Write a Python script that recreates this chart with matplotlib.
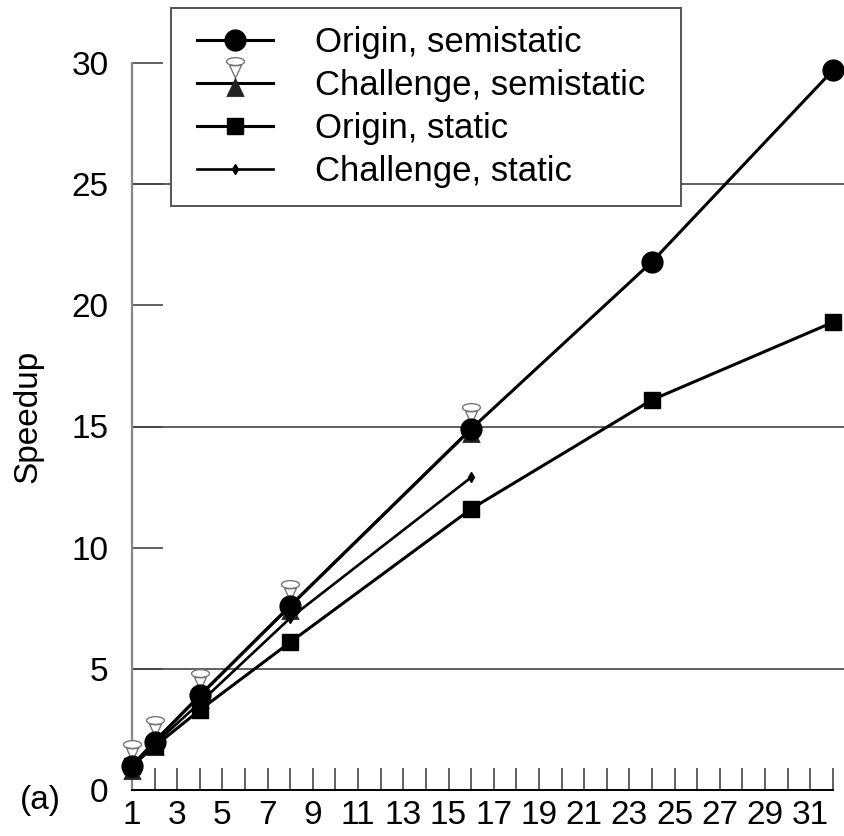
import matplotlib
matplotlib.use('Agg')
import matplotlib.pyplot as plt
from matplotlib.lines import Line2D
from matplotlib.path import Path
from matplotlib.transforms import Affine2D
from matplotlib.legend_handler import HandlerTuple, HandlerLine2D

plt.rcParams['font.family'] = ['Liberation Sans', 'DejaVu Sans']

# --- data ---
x_all = [1, 2, 4, 8, 16, 24, 32]
x_part = [1, 2, 4, 8, 16]
origin_semi = [1.0, 2.0, 3.9, 7.6, 14.9, 21.8, 29.7]
challenge_semi = [1.0, 2.0, 3.9, 7.6, 14.9]
origin_static = [1.0, 1.8, 3.3, 6.1, 11.6, 16.1, 19.3]
challenge_static = [1.0, 1.9, 3.6, 7.1, 12.9]

labels = ['Origin, semistatic', 'Challenge, semistatic', 'Origin, static', 'Challenge, static']
y_ticks = [0, 5, 10, 15, 20, 25, 30]
grid_y = [5, 15, 25]

# hourglass marker: open cup + upper glass on top, dark triangle below
# (extra MOVETO points keep both parts scaled the same way)
bounds = Path([(0, -1.0), (0, 1.0)], [Path.MOVETO, Path.MOVETO])
cup = Path.unit_circle().transformed(Affine2D().scale(0.34, 0.15).translate(0, 0.83))
glass = Path([(-0.22, 0.68), (0.22, 0.68), (0, 0.2), (-0.22, 0.68)],
             [Path.MOVETO, Path.LINETO, Path.LINETO, Path.CLOSEPOLY])
cup = Path.make_compound_path(cup, glass, bounds)
tri = Path([(0, 0.2), (-0.33, -0.5), (0.33, -0.5), (0, 0.2)],
           [Path.MOVETO, Path.LINETO, Path.LINETO, Path.CLOSEPOLY])
tri = Path.make_compound_path(tri, bounds)

fig = plt.figure(figsize=(8.44, 8.36), dpi=100)
ax = fig.add_axes([132 / 844, 1 - 790 / 836, 1 - 132 / 844, 727 / 836])

for g in grid_y:
    ax.axhline(g, color='#444444', lw=1.2, zorder=1)

cs_cup, = ax.plot(x_part, challenge_semi, color='black', lw=2.2, marker=cup, ms=38,
                  mfc='white', mec='#777777', mew=1.0, zorder=3, clip_on=False)
cs_tri, = ax.plot(x_part, challenge_semi, color='black', lw=0, marker=tri, ms=38,
                  mfc='#222222', mec='#222222', mew=0.5, zorder=3, clip_on=False)
os_line, = ax.plot(x_all, origin_semi, color='black', lw=2.2, marker='o', ms=15,
                   zorder=5, clip_on=False)
st_line, = ax.plot(x_all, origin_static, color='black', lw=2.2, marker='s', ms=12,
                   zorder=4, clip_on=False)
ct_line, = ax.plot(x_part, challenge_static, color='black', lw=1.9, marker='d', ms=5,
                   zorder=4, clip_on=False)

ax.set_xlim(1, 32.49)
ax.set_ylim(0, 30)
ax.set_xticks(range(1, 33))
ax.set_xticklabels([str(i) if i % 2 == 1 else '' for i in range(1, 33)])
ax.set_yticks(y_ticks)

ax.tick_params(axis='x', direction='in', length=16, width=1.2, color='#444444',
               labelsize=24, pad=7)
ax.tick_params(axis='y', direction='in', length=22, width=1.2, color='#444444',
               labelsize=24, pad=17)

for s in ['top', 'right']:
    ax.spines[s].set_visible(False)
ax.spines['left'].set_color('#888888')
ax.spines['left'].set_linewidth(1.6)
ax.spines['left'].set_bounds(0, 30)
ax.spines['bottom'].set_color('black')
ax.spines['bottom'].set_linewidth(1.4)
ax.spines['bottom'].set_bounds(1, 32)

ax.set_ylabel('Speedup', fontsize=24)
ax.yaxis.set_label_coords(-(132 - 28) / 712, (790 - 416) / 727)
ax.yaxis.label.set_va('center')
fig.text(20 / 844, 1 - 800 / 836, '(a)', fontsize=24, ha='left', va='center')

# legend box: x 171..681, y 8..205 px
leg = ax.legend([os_line, (cs_cup, cs_tri), st_line, ct_line], labels,
                handler_map={tuple: HandlerTuple(ndivide=1, xpad=0.23),
                             Line2D: HandlerLine2D(xpad=0.23)},
                loc='upper left', mode='expand',
                bbox_to_anchor=(171 / 844, 1 - 205 / 836, 510 / 844, 197 / 836),
                bbox_transform=fig.transFigure, fontsize=25, frameon=True,
                fancybox=False, edgecolor='#555555', framealpha=1,
                handlelength=2.42, handletextpad=1.21, labelspacing=0.29,
                borderpad=0.51, borderaxespad=0)
leg.get_frame().set_linewidth(1.4)
leg.set_zorder(10)

fig.savefig('out.png', dpi=100, facecolor='white')
